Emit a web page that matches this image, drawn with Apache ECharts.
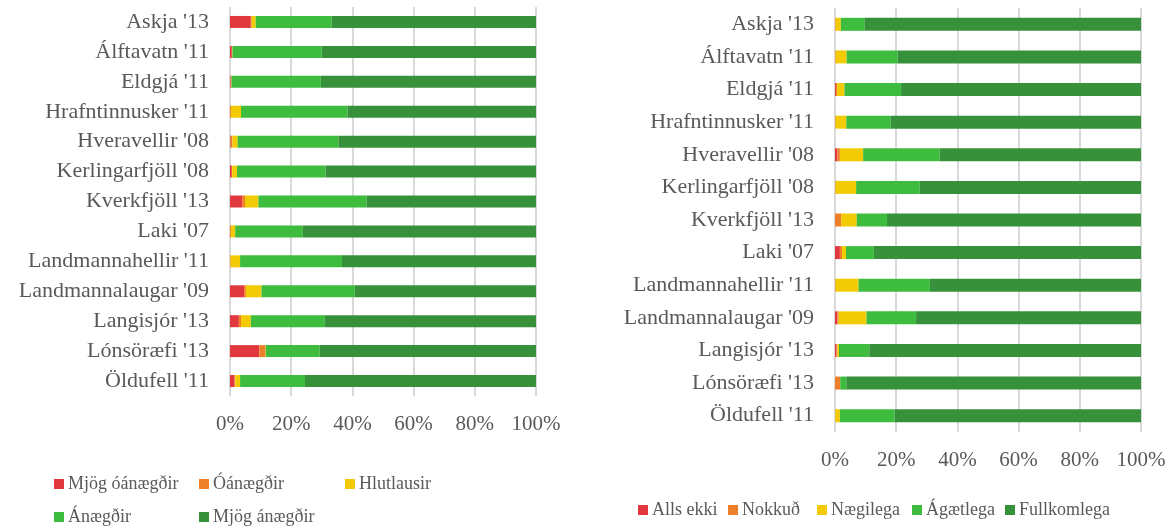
<!DOCTYPE html>
<html>
<head>
<meta charset="utf-8">
<script src="https://cdn.jsdelivr.net/npm/echarts@6/dist/echarts.min.js"></script>
<style>
  html, body { margin: 0; padding: 0; background: #fff; }
  #chart { width: 1174px; height: 529px; }
</style>
</head>
<body>
<div id="chart"></div>
<script>
'use strict';

var places = ["Askja '13", "Álftavatn '11", "Eldgjá '11", "Hrafntinnusker '11", "Hveravellir '08",
    "Kerlingarfjöll '08", "Kverkfjöll '13", "Laki '07", "Landmannahellir '11", "Landmannalaugar '09",
    "Langisjór '13", "Lónsöræfi '13", "Öldufell '11"];
var xTicks = [0, 20, 40, 60, 80, 100];

// left panel: satisfaction
var leftNames = ['Mjög óánægðir', 'Óánægðir', 'Hlutlausir', 'Ánægðir', 'Mjög ánægðir'];
var mjogOanaegdir = [6.8, 0.6, 0.2, 0, 0.2, 0.6, 4.0, 0, 0, 4.6, 2.9, 9.6, 1.5];
var oanaegdir = [0.3, 0.1, 0.3, 0.3, 0.6, 0.1, 0.9, 0.3, 0.2, 0.6, 0.7, 2.0, 0.2];
var hlutlausir = [1.3, 0.1, 0, 3.3, 1.7, 1.6, 4.4, 1.4, 3.1, 5.1, 3.2, 0.1, 1.6];
var anaegdir = [24.8, 29.2, 29.2, 34.8, 32.9, 28.9, 35.4, 22.1, 33.3, 30.5, 24.2, 17.6, 21.2];
var mjogAnaegdir = [66.8, 70.0, 70.3, 61.6, 64.6, 68.8, 55.3, 76.2, 63.4, 59.2, 69.0, 70.7, 75.5];

// right panel
var rightNames = ['Alls ekki', 'Nokkuð', 'Nægilega', 'Ágætlega', 'Fullkomlega'];
var allsEkki = [0, 0, 0.3, 0, 0.8, 0, 0, 1.6, 0, 0.8, 0.5, 0, 0];
var nokkud = [0.2, 0.2, 0.4, 0.2, 0.8, 0.2, 2.0, 0.7, 0.2, 0.4, 0.3, 1.7, 0.1];
var naegilega = [1.7, 3.6, 2.4, 3.5, 7.6, 6.7, 5.1, 1.3, 7.5, 9.1, 0.5, 0, 1.5];
var agaetlega = [7.7, 16.7, 18.5, 14.4, 25.0, 20.8, 9.9, 9.1, 23.3, 16.2, 9.9, 2.0, 17.9];
var fullkomlega = [90.4, 79.5, 78.4, 81.9, 65.8, 72.3, 83.0, 87.3, 69.0, 73.5, 88.8, 96.3, 80.5];

var colors = ['#e0383c', '#ee7f2a', '#f2cb05', '#3dbc3e', '#37913a'];
var font = '"Liberation Serif", "DejaVu Serif", serif';
var txt = '#595959';

function xAxisFor(grid) {
    return {
        type: 'value', gridIndex: grid, min: xTicks[0], max: xTicks[xTicks.length - 1], interval: 20,
        axisLine: {show: false},
        axisTick: {show: false},
        splitLine: {lineStyle: {color: '#d9d9d9', width: 2}},
        axisLabel: {
            formatter: '{value}%', color: txt, fontFamily: font, fontSize: 21, margin: 18
        }
    };
}

function yAxisFor(grid) {
    return {
        type: 'category', gridIndex: grid, data: places, inverse: true,
        axisLine: {show: false},
        axisTick: {show: false},
        axisLabel: {color: txt, fontFamily: font, fontSize: 22, margin: 21}
    };
}

function barsFor(names, lists, grid, barW) {
    return names.map(function (n, i) {
        return {
            name: n, type: 'bar', stack: 's' + grid, xAxisIndex: grid, yAxisIndex: grid,
            barWidth: barW, itemStyle: {color: colors[i]}, data: lists[i]
        };
    });
}

function legendAt(name, left, top) {
    return {
        data: [name], left: left, top: top, itemWidth: 10, itemHeight: 10,
        icon: 'rect', padding: 0, itemGap: 0,
        textStyle: {color: txt, fontFamily: font, fontSize: 18, padding: [0, 0, 0, -1]}
    };
}

var options = {
    animation: false,
    grid: [
        {left: 230, width: 306, top: 7, height: 389},
        {left: 835, width: 306, top: 8, height: 424}
    ],
    xAxis: [xAxisFor(0), xAxisFor(1)],
    yAxis: [yAxisFor(0), yAxisFor(1)],
    legend: [
        legendAt(leftNames[0], 54, 475),
        legendAt(leftNames[1], 199, 475),
        legendAt(leftNames[2], 345, 475),
        legendAt(leftNames[3], 54, 508),
        legendAt(leftNames[4], 199, 508),
        legendAt(rightNames[0], 638, 501),
        legendAt(rightNames[1], 728, 501),
        legendAt(rightNames[2], 817, 501),
        legendAt(rightNames[3], 912, 501),
        legendAt(rightNames[4], 1005, 501)
    ],
    series: barsFor(leftNames, [mjogOanaegdir, oanaegdir, hlutlausir, anaegdir, mjogAnaegdir], 0, 12)
        .concat(barsFor(rightNames, [allsEkki, nokkud, naegilega, agaetlega, fullkomlega], 1, 13))
};

var myChart = echarts.init(document.getElementById('chart'));
myChart.setOption(options);
</script>
</body>
</html>
